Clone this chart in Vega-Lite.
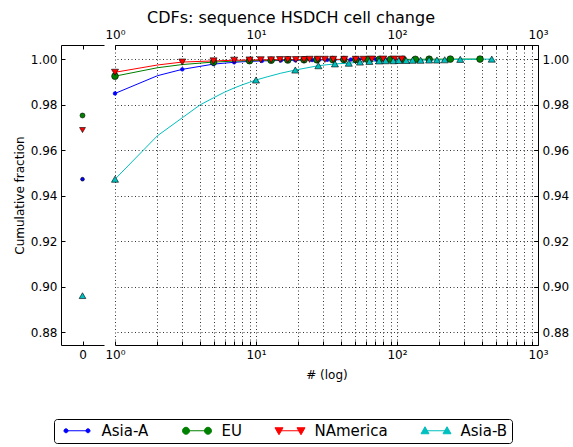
{
  "$schema": "https://vega.github.io/schema/vega-lite/v6.json",
  "background": "white",
  "padding": {"left": 13, "top": 10, "right": 5, "bottom": 5},
  "title": {"text": "CDFs: sequence HSDCH cell change", "fontSize": 16, "font": "DejaVu Sans", "fontWeight": "normal", "anchor": "middle", "offset": 2, "color": "black"},
  "config": {
    "font": "DejaVu Sans",
    "view": {"stroke": null},
    "axis": {"labelFont": "DejaVu Sans", "labelFontSize": 12, "labelColor": "black", "titleFont": "DejaVu Sans", "titleFontSize": 12, "titleFontWeight": "normal", "titleColor": "black", "domainColor": "black", "domainWidth": 1, "tickColor": "black", "tickSize": -4, "labelPadding": 8, "gridColor": "black", "gridDash": [1, 2.5], "gridOpacity": 1, "gridWidth": 0.8, "labelOverlap": false, "labelFlush": false},
    "legend": {"title": null, "orient": "none", "legendX": -61, "legendY": 374, "direction": "horizontal", "symbolSize": 100, "symbolOffset": 11.5, "symbolStrokeWidth": 1, "symbolOpacity": 1, "labelFontSize": 15, "labelFont": "DejaVu Sans", "labelColor": "black", "columnPadding": 29, "labelOffset": 17, "strokeColor": "black", "fillColor": "white", "cornerRadius": 3, "padding": 4}
  },
  "datasets": {
    "left": [
      {"s": "Asia-A", "x": 0, "y": 0.9472},
      {"s": "EU", "x": 0, "y": 0.9752},
      {"s": "NAmerica", "x": 0, "y": 0.9688},
      {"s": "Asia-B", "x": 0, "y": 0.896}
    ],
    "right": [
      {"s": "Asia-A", "x": 1, "y": 0.9849, "m": 1},
      {"s": "Asia-A", "x": 2, "y": 0.9927, "m": 0},
      {"s": "Asia-A", "x": 3, "y": 0.9955, "m": 1},
      {"s": "Asia-A", "x": 5, "y": 0.9978, "m": 1},
      {"s": "Asia-A", "x": 7, "y": 0.9986, "m": 1},
      {"s": "Asia-A", "x": 9, "y": 0.999, "m": 1},
      {"s": "Asia-A", "x": 11, "y": 0.9992, "m": 1},
      {"s": "Asia-A", "x": 13, "y": 0.9993, "m": 1},
      {"s": "Asia-A", "x": 15, "y": 0.9994, "m": 1},
      {"s": "Asia-A", "x": 17, "y": 0.9995, "m": 1},
      {"s": "Asia-A", "x": 19, "y": 0.9995, "m": 1},
      {"s": "Asia-A", "x": 22, "y": 0.9996, "m": 1},
      {"s": "Asia-A", "x": 25, "y": 0.9996, "m": 1},
      {"s": "Asia-A", "x": 28, "y": 0.9997, "m": 1},
      {"s": "Asia-A", "x": 32, "y": 0.9997, "m": 1},
      {"s": "Asia-A", "x": 36, "y": 0.9997, "m": 1},
      {"s": "Asia-A", "x": 41, "y": 0.9998, "m": 1},
      {"s": "Asia-A", "x": 47, "y": 0.9998, "m": 1},
      {"s": "Asia-A", "x": 54, "y": 0.9998, "m": 1},
      {"s": "Asia-A", "x": 62, "y": 0.9999, "m": 1},
      {"s": "Asia-A", "x": 71, "y": 0.9999, "m": 1},
      {"s": "Asia-A", "x": 82, "y": 0.9999, "m": 1},
      {"s": "Asia-A", "x": 95, "y": 0.9999, "m": 1},
      {"s": "Asia-A", "x": 110, "y": 1.0, "m": 1},
      {"s": "EU", "x": 1, "y": 0.9925, "m": 1},
      {"s": "EU", "x": 2, "y": 0.9962, "m": 0},
      {"s": "EU", "x": 3, "y": 0.9976, "m": 0},
      {"s": "EU", "x": 5, "y": 0.9987, "m": 1},
      {"s": "EU", "x": 7, "y": 0.9991, "m": 0},
      {"s": "EU", "x": 9, "y": 0.9993, "m": 1},
      {"s": "EU", "x": 12.8, "y": 0.9995, "m": 1},
      {"s": "EU", "x": 16.8, "y": 0.9996, "m": 1},
      {"s": "EU", "x": 21.9, "y": 0.9997, "m": 1},
      {"s": "EU", "x": 27, "y": 0.9997, "m": 1},
      {"s": "EU", "x": 35, "y": 0.9998, "m": 1},
      {"s": "EU", "x": 42, "y": 0.9998, "m": 1},
      {"s": "EU", "x": 51, "y": 0.9998, "m": 1},
      {"s": "EU", "x": 62, "y": 0.9999, "m": 1},
      {"s": "EU", "x": 75, "y": 0.9999, "m": 1},
      {"s": "EU", "x": 90, "y": 0.9999, "m": 1},
      {"s": "EU", "x": 110, "y": 0.9999, "m": 1},
      {"s": "EU", "x": 135, "y": 0.9999, "m": 1},
      {"s": "EU", "x": 169, "y": 0.99995, "m": 1},
      {"s": "EU", "x": 239, "y": 1.0, "m": 1},
      {"s": "EU", "x": 388, "y": 1.0, "m": 1},
      {"s": "NAmerica", "x": 1, "y": 0.9942, "m": 1},
      {"s": "NAmerica", "x": 2, "y": 0.9974, "m": 0},
      {"s": "NAmerica", "x": 3, "y": 0.9987, "m": 1},
      {"s": "NAmerica", "x": 5, "y": 0.9992, "m": 1},
      {"s": "NAmerica", "x": 7, "y": 0.9995, "m": 1},
      {"s": "NAmerica", "x": 9, "y": 0.9996, "m": 1},
      {"s": "NAmerica", "x": 10.8, "y": 0.9997, "m": 1},
      {"s": "NAmerica", "x": 12.8, "y": 0.9997, "m": 1},
      {"s": "NAmerica", "x": 14.8, "y": 0.9998, "m": 1},
      {"s": "NAmerica", "x": 16.8, "y": 0.9998, "m": 1},
      {"s": "NAmerica", "x": 19.2, "y": 0.9998, "m": 1},
      {"s": "NAmerica", "x": 21.9, "y": 0.9998, "m": 1},
      {"s": "NAmerica", "x": 24, "y": 0.9999, "m": 1},
      {"s": "NAmerica", "x": 27.4, "y": 0.9999, "m": 1},
      {"s": "NAmerica", "x": 30.8, "y": 0.9999, "m": 1},
      {"s": "NAmerica", "x": 35.3, "y": 0.9999, "m": 1},
      {"s": "NAmerica", "x": 42.3, "y": 0.9999, "m": 1},
      {"s": "NAmerica", "x": 51, "y": 0.9999, "m": 1},
      {"s": "NAmerica", "x": 58, "y": 0.9999, "m": 1},
      {"s": "NAmerica", "x": 66.5, "y": 1.0, "m": 1},
      {"s": "NAmerica", "x": 80, "y": 1.0, "m": 1},
      {"s": "NAmerica", "x": 95.7, "y": 1.0, "m": 1},
      {"s": "NAmerica", "x": 108, "y": 1.0, "m": 1},
      {"s": "Asia-B", "x": 1, "y": 0.9472, "m": 1},
      {"s": "Asia-B", "x": 2, "y": 0.9663, "m": 0},
      {"s": "Asia-B", "x": 3, "y": 0.9742, "m": 0},
      {"s": "Asia-B", "x": 4, "y": 0.9798, "m": 0},
      {"s": "Asia-B", "x": 5, "y": 0.983, "m": 0},
      {"s": "Asia-B", "x": 6, "y": 0.9855, "m": 0},
      {"s": "Asia-B", "x": 7, "y": 0.9873, "m": 0},
      {"s": "Asia-B", "x": 8, "y": 0.9887, "m": 0},
      {"s": "Asia-B", "x": 9, "y": 0.9898, "m": 0},
      {"s": "Asia-B", "x": 10, "y": 0.9908, "m": 1},
      {"s": "Asia-B", "x": 12, "y": 0.9922, "m": 0},
      {"s": "Asia-B", "x": 15, "y": 0.9938, "m": 0},
      {"s": "Asia-B", "x": 19, "y": 0.9952, "m": 1},
      {"s": "Asia-B", "x": 27.7, "y": 0.9971, "m": 1},
      {"s": "Asia-B", "x": 36.3, "y": 0.9979, "m": 1},
      {"s": "Asia-B", "x": 45.5, "y": 0.9982, "m": 1},
      {"s": "Asia-B", "x": 54.6, "y": 0.9987, "m": 1},
      {"s": "Asia-B", "x": 63.7, "y": 0.999, "m": 1},
      {"s": "Asia-B", "x": 74.6, "y": 0.9992, "m": 1},
      {"s": "Asia-B", "x": 83, "y": 0.9993, "m": 1},
      {"s": "Asia-B", "x": 94, "y": 0.9993, "m": 1},
      {"s": "Asia-B", "x": 103, "y": 0.9994, "m": 1},
      {"s": "Asia-B", "x": 116, "y": 0.9994, "m": 1},
      {"s": "Asia-B", "x": 129, "y": 0.9995, "m": 1},
      {"s": "Asia-B", "x": 147, "y": 0.9995, "m": 1},
      {"s": "Asia-B", "x": 169, "y": 0.9996, "m": 1},
      {"s": "Asia-B", "x": 192, "y": 0.9996, "m": 1},
      {"s": "Asia-B", "x": 218, "y": 0.9997, "m": 1},
      {"s": "Asia-B", "x": 281, "y": 0.9999, "m": 1},
      {"s": "Asia-B", "x": 470, "y": 1.0, "m": 1}
    ]
  },
  "spacing": 11,
  "bounds": "flush",
  "resolve": {
    "scale": {"color": "independent", "fill": "independent", "stroke": "independent", "shape": "independent", "size": "independent"},
    "legend": {"color": "independent", "fill": "independent", "stroke": "independent", "shape": "independent", "size": "independent"}
  },
  "hconcat": [
    {
      "width": 43,
      "height": 300,
      "data": {"name": "left"},
      "resolve": {"axis": {"x": "independent", "y": "independent"}},
      "layer": [
        {
          "mark": {"type": "point", "filled": true, "stroke": "black", "strokeWidth": 0.6, "opacity": 1},
          "encoding": {
            "x": {"field": "x", "type": "quantitative", "scale": {"domain": [-0.5, 0.5], "nice": false, "zero": false}, "axis": {"orient": "bottom", "values": [0], "format": "d", "title": null, "grid": false}},
            "y": {"field": "y", "type": "quantitative", "scale": {"domain": [0.8743, 1.0062], "nice": false, "zero": false}, "axis": {"orient": "left", "values": [0.88, 0.9, 0.92, 0.94, 0.96, 0.98, 1.0], "format": ".2f", "title": "Cumulative fraction", "grid": false, "titlePadding": 4}},
            "color": {"field": "s", "type": "nominal", "scale": {"domain": ["Asia-A", "EU", "NAmerica", "Asia-B"], "range": ["#0000ff", "#008000", "#ff0000", "#00bfbf"]}, "legend": null},
            "shape": {"field": "s", "type": "nominal", "scale": {"domain": ["Asia-A", "EU", "NAmerica", "Asia-B"], "range": ["circle", "circle", "triangle-down", "triangle-up"]}, "legend": null},
            "size": {"field": "s", "type": "nominal", "scale": {"domain": ["Asia-A", "EU", "NAmerica", "Asia-B"], "range": [14, 45, 50, 50]}, "legend": null}
          }
        },
        {
          "mark": {"type": "point", "opacity": 0},
          "encoding": {
            "x": {"field": "x", "type": "quantitative", "axis": {"orient": "top", "values": [0], "labels": false, "title": null, "grid": false}},
            "y": {"field": "y", "type": "quantitative", "axis": null}
          }
        }
      ]
    },
    {
      "width": 423,
      "height": 300,
      "data": {"name": "right"},
      "resolve": {"axis": {"x": "independent", "y": "independent"}},
      "layer": [
        {
          "mark": {"type": "point", "filled": true, "opacity": 0},
          "encoding": {
            "x": {"field": "x", "type": "quantitative", "scale": {"type": "log", "domain": [1, 1000], "nice": false}, "axis": {"orient": "top", "values": [1, 2, 3, 4, 5, 6, 7, 8, 9, 10, 20, 30, 40, 50, 60, 70, 80, 90, 100, 200, 300, 400, 500, 600, 700, 800, 900, 1000], "labelExpr": "datum.value == 1 ? '10⁰' : datum.value == 10 ? '10¹' : datum.value == 100 ? '10²' : datum.value == 1000 ? '10³' : ''", "title": null, "grid": false}},
            "y": {"field": "y", "type": "quantitative", "scale": {"domain": [0.8743, 1.0062], "nice": false, "zero": false}, "axis": null},
            "fill": {"field": "s", "type": "nominal", "scale": {"domain": ["Asia-A", "EU", "NAmerica", "Asia-B"], "range": ["#0000ff", "#008000", "#ff0000", "#00bfbf"]}},
            "stroke": {"field": "s", "type": "nominal", "scale": {"domain": ["Asia-A", "EU", "NAmerica", "Asia-B"], "range": ["#0000ff", "#008000", "#ff0000", "#00bfbf"]}},
            "shape": {"field": "s", "type": "nominal", "scale": {"domain": ["Asia-A", "EU", "NAmerica", "Asia-B"], "range": [
              "M-2.2,0L2.2,0M-2.6,0a0.4,0.4 0 1,0 0.8,0a0.4,0.4 0 1,0 -0.8,0ZM1.8,0a0.4,0.4 0 1,0 0.8,0a0.4,0.4 0 1,0 -0.8,0Z",
              "M-2.2,0L2.2,0M-2.9,0a0.7,0.7 0 1,0 1.4,0a0.7,0.7 0 1,0 -1.4,0ZM1.5,0a0.7,0.7 0 1,0 1.4,0a0.7,0.7 0 1,0 -1.4,0Z",
              "M-2.2,0L2.2,0M-3.0,-0.6L-1.4,-0.6L-2.2,0.8ZM1.4,-0.6L3.0,-0.6L2.2,0.8Z",
              "M-2.2,0L2.2,0M-3.0,0.6L-1.4,0.6L-2.2,-0.8ZM1.4,0.6L3.0,0.6L2.2,-0.8Z"
            ]}}
          }
        },
        {
          "mark": {"type": "line", "strokeWidth": 1},
          "encoding": {
            "x": {"field": "x", "type": "quantitative", "axis": {"orient": "bottom", "values": [1, 2, 3, 4, 5, 6, 7, 8, 9, 10, 20, 30, 40, 50, 60, 70, 80, 90, 100, 200, 300, 400, 500, 600, 700, 800, 900, 1000], "labelExpr": "datum.value == 1 ? '10⁰' : datum.value == 10 ? '10¹' : datum.value == 100 ? '10²' : datum.value == 1000 ? '10³' : ''", "title": "# (log)", "grid": true, "titlePadding": 9}},
            "y": {"field": "y", "type": "quantitative", "axis": {"orient": "right", "values": [0.88, 0.9, 0.92, 0.94, 0.96, 0.98, 1.0], "format": ".2f", "title": null, "grid": true}},
            "color": {"field": "s", "type": "nominal", "scale": {"domain": ["Asia-A", "EU", "NAmerica", "Asia-B"], "range": ["#0000ff", "#008000", "#ff0000", "#00bfbf"]}},
            "order": {"field": "x", "type": "quantitative"}
          }
        },
        {
          "transform": [{"filter": "datum.s == 'Asia-A' && datum.m == 1"}],
          "mark": {"type": "point", "filled": true, "shape": "circle", "size": 14, "fill": "#0000ff", "stroke": "#0000ff", "strokeWidth": 0.5, "opacity": 1},
          "encoding": {
            "x": {"field": "x", "type": "quantitative", "axis": null},
            "y": {"field": "y", "type": "quantitative", "axis": null}
          }
        },
        {
          "transform": [{"filter": "datum.s == 'EU' && datum.m == 1"}],
          "mark": {"type": "point", "filled": true, "shape": "circle", "size": 45, "fill": "#008000", "stroke": "black", "strokeWidth": 0.6, "opacity": 1},
          "encoding": {
            "x": {"field": "x", "type": "quantitative", "axis": null},
            "y": {"field": "y", "type": "quantitative", "axis": null}
          }
        },
        {
          "transform": [{"filter": "datum.s == 'NAmerica' && datum.m == 1"}],
          "mark": {"type": "point", "filled": true, "shape": "triangle-down", "size": 50, "fill": "#ff0000", "stroke": "black", "strokeWidth": 0.6, "opacity": 1},
          "encoding": {
            "x": {"field": "x", "type": "quantitative", "axis": null},
            "y": {"field": "y", "type": "quantitative", "axis": null}
          }
        },
        {
          "transform": [{"filter": "datum.s == 'Asia-B' && datum.m == 1"}],
          "mark": {"type": "point", "filled": true, "shape": "triangle-up", "size": 50, "fill": "#00bfbf", "stroke": "black", "strokeWidth": 0.6, "opacity": 1},
          "encoding": {
            "x": {"field": "x", "type": "quantitative", "axis": null},
            "y": {"field": "y", "type": "quantitative", "axis": null}
          }
        }
      ]
    }
  ]
}
